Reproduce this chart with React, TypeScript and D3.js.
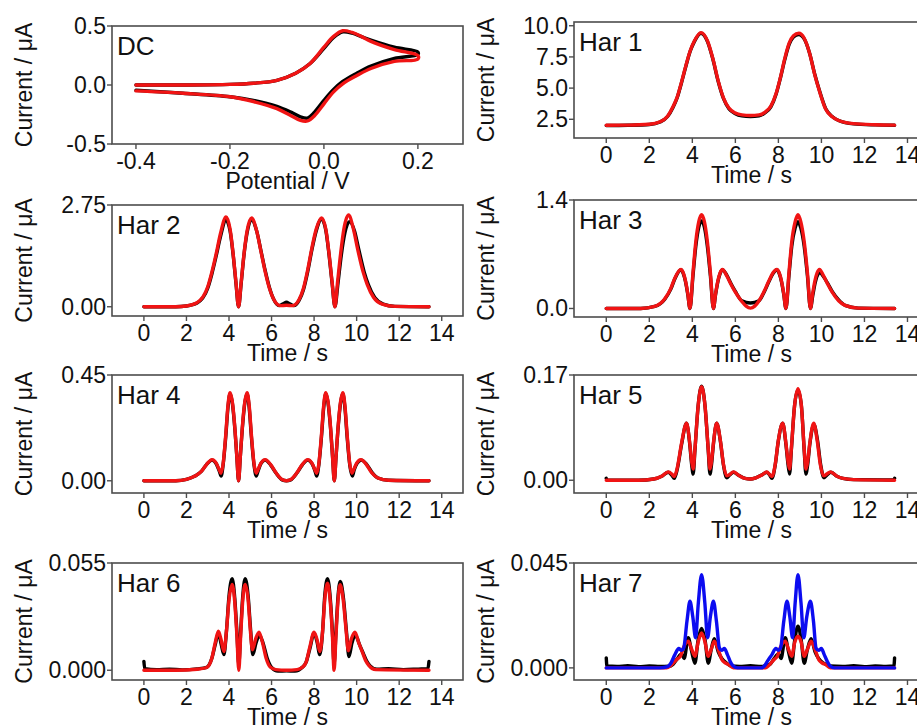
import React from "react";
import * as d3 from "d3";

type Pt = [number, number];

// ---- DC cyclic voltammogram: potential (V), current (uA); forward sweep then reverse ----
const dcExp: Pt[] = [
  [-0.4, 0.0], [-0.3, 0.0], [-0.2, 0.005], [-0.15, 0.015], [-0.1, 0.04], [-0.06, 0.1],
  [-0.03, 0.18], [0.0, 0.31], [0.02, 0.4], [0.04, 0.45], [0.06, 0.44], [0.08, 0.41],
  [0.1, 0.38], [0.15, 0.32], [0.2, 0.28],
  [0.2, 0.26], [0.15, 0.225], [0.1, 0.16], [0.07, 0.1], [0.04, 0.03], [0.02, -0.04],
  [0.0, -0.13], [-0.02, -0.23], [-0.035, -0.28], [-0.05, -0.27], [-0.07, -0.23],
  [-0.1, -0.18], [-0.15, -0.13], [-0.2, -0.1], [-0.3, -0.07], [-0.4, -0.045],
];
const dcSim: Pt[] = [
  [-0.4, 0.0], [-0.3, 0.0], [-0.2, 0.005], [-0.15, 0.015], [-0.1, 0.04], [-0.06, 0.1],
  [-0.03, 0.18], [0.0, 0.32], [0.02, 0.41], [0.04, 0.46], [0.06, 0.445], [0.08, 0.41],
  [0.1, 0.37], [0.15, 0.3], [0.2, 0.25],
  [0.2, 0.22], [0.15, 0.2], [0.1, 0.14], [0.07, 0.08], [0.04, 0.01], [0.02, -0.06],
  [0.0, -0.16], [-0.02, -0.26], [-0.035, -0.305], [-0.05, -0.3], [-0.07, -0.26],
  [-0.1, -0.2], [-0.15, -0.14], [-0.2, -0.1], [-0.3, -0.07], [-0.4, -0.05],
];

// ---- harmonics: time (s), current (uA) ----
const har1Exp: Pt[] = [
  [0, 2.0], [1, 2.02], [2, 2.08], [2.5, 2.28], [2.85, 2.72], [3.1, 3.45], [3.3, 4.25],
  [3.5, 5.45], [3.7, 6.75], [3.9, 7.95], [4.1, 8.75], [4.4, 9.4], [4.7, 8.75], [4.95, 7.35],
  [5.2, 5.55], [5.45, 4.15], [5.7, 3.35], [6.0, 2.95], [6.3, 2.78], [6.7, 2.72], [7.1, 2.78],
  [7.4, 3.05], [7.65, 3.5], [7.9, 4.55], [8.1, 5.85], [8.3, 7.3], [8.5, 8.5], [8.7, 9.1],
  [8.95, 9.3], [9.2, 8.95], [9.45, 7.8], [9.7, 6.05], [9.9, 4.85], [10.2, 3.35], [10.5, 2.72],
  [10.8, 2.4], [11.5, 2.13], [12.5, 2.05], [13.4, 2.02],
];
const har1Sim: Pt[] = [
  [0, 2.02], [1, 2.03], [2, 2.1], [2.5, 2.3], [2.85, 2.75], [3.1, 3.5], [3.3, 4.3],
  [3.5, 5.5], [3.7, 6.8], [3.9, 8.0], [4.1, 8.8], [4.4, 9.45], [4.7, 8.8], [4.95, 7.4],
  [5.2, 5.6], [5.45, 4.2], [5.7, 3.4], [6.0, 3.0], [6.3, 2.85], [6.7, 2.8], [7.1, 2.85],
  [7.4, 3.1], [7.65, 3.55], [7.9, 4.6], [8.1, 5.9], [8.3, 7.4], [8.5, 8.6], [8.7, 9.2],
  [8.95, 9.4], [9.2, 9.0], [9.45, 7.8], [9.7, 6.0], [9.9, 4.8], [10.2, 3.3], [10.5, 2.7],
  [10.8, 2.4], [11.5, 2.15], [12.5, 2.06], [13.4, 2.03],
];

const har2Exp: Pt[] = [
  [0, 0], [1.5, 0], [2.0, 0.02], [2.5, 0.1], [3.0, 0.5], [3.2, 0.9], [3.4, 1.38], [3.6, 1.9],
  [3.86, 2.34], [4.05, 2.05], [4.2, 1.38], [4.33, 0.62], [4.45, 0], [4.57, 0.62], [4.7, 1.38],
  [4.85, 2.0], [5.06, 2.36], [5.3, 2.05], [5.5, 1.52], [5.7, 0.98], [5.9, 0.52], [6.1, 0.2],
  [6.35, 0.03], [6.55, 0.08], [6.7, 0.12], [6.85, 0.08], [7.05, 0.03], [7.3, 0.18], [7.5, 0.46],
  [7.7, 0.95], [7.9, 1.55], [8.1, 2.05], [8.35, 2.37], [8.55, 2.07], [8.7, 1.42], [8.85, 0.62],
  [8.98, 0], [9.12, 0.62], [9.28, 1.4], [9.45, 2.0], [9.66, 2.3], [9.9, 2.05], [10.1, 1.55],
  [10.35, 0.95], [10.55, 0.6], [10.85, 0.25], [11.25, 0.07], [11.8, 0.01], [13.4, 0],
];
const har2Sim: Pt[] = [
  [0, 0], [1.5, 0], [2.0, 0.02], [2.5, 0.11], [3.0, 0.54], [3.2, 0.95], [3.4, 1.44], [3.6, 1.98],
  [3.86, 2.43], [4.05, 2.1], [4.2, 1.4], [4.33, 0.65], [4.45, 0], [4.57, 0.65], [4.7, 1.4],
  [4.85, 2.05], [5.06, 2.4], [5.3, 2.05], [5.5, 1.5], [5.7, 0.95], [5.9, 0.5], [6.1, 0.2],
  [6.4, 0.03], [6.7, 0.04], [7.0, 0.03], [7.3, 0.2], [7.5, 0.5], [7.7, 1.0], [7.9, 1.6],
  [8.1, 2.1], [8.35, 2.4], [8.55, 2.1], [8.7, 1.45], [8.85, 0.65], [8.98, 0], [9.1, 0.65],
  [9.25, 1.45], [9.4, 2.1], [9.62, 2.48], [9.85, 2.1], [10.05, 1.55], [10.3, 0.95], [10.5, 0.6],
  [10.8, 0.25], [11.2, 0.07], [11.8, 0.01], [13.4, 0],
];

const har3Exp: Pt[] = [
  [0, 0], [1.6, 0], [2.25, 0.026], [2.72, 0.12], [3.0, 0.25], [3.2, 0.39], [3.47, 0.5],
  [3.58, 0.45], [3.68, 0.35], [3.79, 0.18], [3.89, 0], [4.03, 0.42], [4.16, 0.8], [4.3, 1.05],
  [4.43, 1.13], [4.56, 1.05], [4.7, 0.8], [4.84, 0.42], [4.98, 0], [5.08, 0.18], [5.19, 0.35],
  [5.29, 0.45], [5.4, 0.5], [5.6, 0.43], [5.8, 0.32], [6.0, 0.22], [6.3, 0.1], [6.7, 0.07],
  [7.1, 0.1], [7.3, 0.19], [7.55, 0.34], [7.75, 0.45], [7.93, 0.5], [8.04, 0.45], [8.14, 0.35],
  [8.25, 0.18], [8.35, 0], [8.49, 0.42], [8.62, 0.8], [8.78, 1.04], [8.91, 1.12], [9.04, 1.04],
  [9.2, 0.8], [9.35, 0.42], [9.49, 0], [9.6, 0.17], [9.7, 0.32], [9.8, 0.42], [9.93, 0.46],
  [10.1, 0.41], [10.3, 0.32], [10.5, 0.22], [10.8, 0.11], [11.1, 0.04], [11.7, 0.005], [13.4, 0],
];
const har3Sim: Pt[] = [
  [0, 0], [1.6, 0], [2.25, 0.026], [2.72, 0.125], [3.0, 0.26], [3.2, 0.4], [3.47, 0.505],
  [3.58, 0.46], [3.68, 0.36], [3.79, 0.19], [3.89, 0], [4.03, 0.46], [4.16, 0.86], [4.3, 1.12],
  [4.43, 1.21], [4.56, 1.12], [4.7, 0.86], [4.84, 0.46], [4.98, 0], [5.08, 0.19], [5.19, 0.36],
  [5.29, 0.46], [5.4, 0.505], [5.6, 0.42], [5.8, 0.31], [6.0, 0.21], [6.3, 0.09], [6.5, 0.03],
  [6.7, 0.005], [6.9, 0.03], [7.1, 0.1], [7.3, 0.2], [7.55, 0.35], [7.75, 0.46], [7.93, 0.505],
  [8.04, 0.46], [8.14, 0.36], [8.25, 0.19], [8.35, 0], [8.49, 0.46], [8.62, 0.86], [8.78, 1.12],
  [8.91, 1.21], [9.04, 1.12], [9.2, 0.86], [9.35, 0.46], [9.49, 0], [9.59, 0.19], [9.7, 0.36],
  [9.8, 0.46], [9.91, 0.505], [10.1, 0.42], [10.3, 0.31], [10.5, 0.21], [10.8, 0.1],
  [11.1, 0.04], [11.7, 0.005], [13.4, 0],
];

const har4Exp: Pt[] = [
  [0, 0], [1.5, 0], [2.0, 0.006], [2.4, 0.02], [2.7, 0.04], [2.95, 0.07], [3.2, 0.088],
  [3.4, 0.072], [3.55, 0.04], [3.63, 0.02], [3.72, 0.065], [3.85, 0.19], [3.95, 0.31],
  [4.05, 0.37], [4.15, 0.335], [4.28, 0.215], [4.37, 0.1], [4.45, 0], [4.53, 0.1], [4.62, 0.215],
  [4.75, 0.335], [4.85, 0.37], [4.95, 0.31], [5.05, 0.19], [5.18, 0.065], [5.28, 0.02],
  [5.36, 0.04], [5.5, 0.073], [5.7, 0.088], [5.95, 0.068], [6.2, 0.034], [6.5, 0.004], [6.7, 0],
  [6.9, 0.004], [7.2, 0.034], [7.45, 0.068], [7.7, 0.088], [7.9, 0.073], [8.05, 0.04],
  [8.12, 0.02], [8.22, 0.065], [8.35, 0.19], [8.45, 0.31], [8.55, 0.37], [8.65, 0.335],
  [8.78, 0.215], [8.87, 0.1], [8.95, 0], [9.03, 0.1], [9.12, 0.215], [9.25, 0.335], [9.35, 0.37],
  [9.45, 0.31], [9.55, 0.19], [9.68, 0.065], [9.8, 0.02], [9.88, 0.045], [10.02, 0.074],
  [10.22, 0.088], [10.47, 0.07], [10.72, 0.036], [11.0, 0.012], [11.5, 0.002], [13.4, 0],
];
const har4Sim: Pt[] = [
  [0, 0], [1.5, 0], [2.0, 0.006], [2.4, 0.02], [2.7, 0.04], [2.95, 0.07], [3.2, 0.09],
  [3.4, 0.075], [3.55, 0.045], [3.62, 0.032], [3.72, 0.07], [3.85, 0.2], [3.95, 0.32],
  [4.05, 0.375], [4.15, 0.34], [4.28, 0.22], [4.37, 0.1], [4.45, 0], [4.53, 0.1], [4.62, 0.22],
  [4.75, 0.34], [4.85, 0.375], [4.95, 0.32], [5.05, 0.2], [5.18, 0.07], [5.28, 0.032],
  [5.35, 0.045], [5.5, 0.075], [5.7, 0.09], [5.95, 0.07], [6.2, 0.035], [6.5, 0.005], [6.7, 0],
  [6.9, 0.005], [7.2, 0.035], [7.45, 0.07], [7.7, 0.09], [7.9, 0.075], [8.05, 0.045],
  [8.12, 0.032], [8.22, 0.07], [8.35, 0.2], [8.45, 0.32], [8.55, 0.375], [8.65, 0.34],
  [8.78, 0.22], [8.87, 0.1], [8.95, 0], [9.03, 0.1], [9.12, 0.22], [9.25, 0.34], [9.35, 0.375],
  [9.45, 0.32], [9.55, 0.2], [9.68, 0.07], [9.78, 0.032], [9.85, 0.045], [10.0, 0.075],
  [10.2, 0.09], [10.45, 0.07], [10.7, 0.035], [11.0, 0.012], [11.5, 0.002], [13.4, 0],
];

const har5Exp: Pt[] = [
  [0, 0.003], [0.05, 0.0005], [1.5, 0], [2.2, 0.002], [2.6, 0.007], [2.88, 0.013], [3.05, 0.008],
  [3.16, 0.003], [3.3, 0.018], [3.5, 0.058], [3.73, 0.092], [3.88, 0.058], [3.97, 0.025],
  [4.04, 0.01], [4.12, 0.048], [4.27, 0.12], [4.43, 0.152], [4.59, 0.12], [4.74, 0.048],
  [4.82, 0.01], [4.89, 0.025], [4.98, 0.058], [5.13, 0.092], [5.3, 0.064], [5.45, 0.024],
  [5.6, 0.004], [5.72, 0.008], [5.91, 0.013], [6.15, 0.008], [6.45, 0.003], [6.7, 0.002],
  [6.95, 0.004], [7.25, 0.009], [7.46, 0.013], [7.6, 0.008], [7.7, 0.003], [7.85, 0.024],
  [8.0, 0.064], [8.2, 0.092], [8.35, 0.058], [8.45, 0.025], [8.52, 0.01], [8.6, 0.048],
  [8.75, 0.12], [8.91, 0.146], [9.07, 0.12], [9.2, 0.048], [9.28, 0.01], [9.36, 0.025],
  [9.46, 0.058], [9.65, 0.09], [9.82, 0.064], [9.97, 0.024], [10.12, 0.004], [10.27, 0.009],
  [10.44, 0.013], [10.7, 0.007], [11.0, 0.003], [11.5, 0.001], [13.35, 0.0005], [13.4, 0.003],
];
const har5Sim: Pt[] = [
  [0, 0], [1.5, 0], [2.2, 0.002], [2.6, 0.007], [2.88, 0.0135], [3.05, 0.01], [3.16, 0.006],
  [3.3, 0.02], [3.5, 0.06], [3.73, 0.092], [3.88, 0.06], [3.97, 0.03], [4.04, 0.018],
  [4.12, 0.05], [4.27, 0.12], [4.43, 0.151], [4.59, 0.12], [4.74, 0.05], [4.82, 0.018],
  [4.89, 0.03], [4.98, 0.06], [5.13, 0.092], [5.3, 0.065], [5.45, 0.025], [5.6, 0.007],
  [5.72, 0.009], [5.91, 0.0135], [6.15, 0.008], [6.45, 0.003], [6.7, 0.002], [6.95, 0.004],
  [7.25, 0.009], [7.46, 0.0135], [7.6, 0.009], [7.7, 0.006], [7.85, 0.025], [8.0, 0.065],
  [8.2, 0.092], [8.35, 0.06], [8.45, 0.03], [8.52, 0.018], [8.6, 0.05], [8.75, 0.12],
  [8.91, 0.148], [9.07, 0.12], [9.2, 0.05], [9.28, 0.018], [9.36, 0.03], [9.46, 0.06],
  [9.64, 0.092], [9.8, 0.065], [9.95, 0.025], [10.1, 0.007], [10.25, 0.01], [10.42, 0.0135],
  [10.7, 0.007], [11.0, 0.003], [11.5, 0.001], [13.4, 0],
];

const har6Exp: Pt[] = [
  [0, 0.0045], [0.04, 0.0008], [0.6, 0.0003], [1.2, 0.0006], [1.8, 0.0002], [2.5, 0.0007],
  [2.95, 0.0015], [3.19, 0.006], [3.35, 0.013], [3.5, 0.019], [3.62, 0.014], [3.76, 0.008],
  [3.88, 0.02], [4.0, 0.038], [4.15, 0.047], [4.27, 0.037], [4.37, 0.02], [4.46, 0.003],
  [4.55, 0.02], [4.64, 0.037], [4.76, 0.047], [4.9, 0.038], [5.02, 0.02], [5.12, 0.008],
  [5.27, 0.014], [5.43, 0.018], [5.6, 0.014], [5.8, 0.006], [6.0, 0.0015], [6.3, -0.0004],
  [6.7, -0.0003], [7.1, -0.0004], [7.45, 0.0015], [7.62, 0.004], [7.8, 0.011], [8.0, 0.019],
  [8.13, 0.015], [8.27, 0.008], [8.4, 0.02], [8.5, 0.038], [8.63, 0.047], [8.76, 0.037],
  [8.86, 0.02], [8.94, 0.003], [9.03, 0.02], [9.12, 0.037], [9.23, 0.0455], [9.38, 0.037],
  [9.52, 0.02], [9.64, 0.007], [9.78, 0.014], [9.95, 0.0178], [10.14, 0.013], [10.3, 0.009],
  [10.46, 0.005], [10.62, 0.0024], [10.95, 0.0005], [11.5, 0.0008], [12.2, 0.0003],
  [12.9, 0.0006], [13.35, 0.0008], [13.4, 0.0045],
];
const har6Sim: Pt[] = [
  [0, 0], [1.5, 0], [2.5, 0.0005], [2.95, 0.0014], [3.19, 0.006], [3.35, 0.014], [3.5, 0.02],
  [3.62, 0.016], [3.76, 0.0096], [3.88, 0.02], [4.0, 0.036], [4.15, 0.044], [4.27, 0.035],
  [4.37, 0.018], [4.46, 0], [4.55, 0.018], [4.64, 0.035], [4.76, 0.044], [4.9, 0.036],
  [5.0, 0.021], [5.1, 0.0105], [5.25, 0.016], [5.41, 0.0195], [5.58, 0.014], [5.75, 0.006],
  [5.95, 0.0015], [6.2, 0.0003], [6.7, 0], [7.2, 0.0003], [7.45, 0.0015], [7.62, 0.004],
  [7.8, 0.012], [8.0, 0.0195], [8.13, 0.016], [8.27, 0.0096], [8.4, 0.02], [8.5, 0.036],
  [8.63, 0.0447], [8.76, 0.035], [8.86, 0.018], [8.94, 0], [9.03, 0.018], [9.12, 0.035],
  [9.22, 0.0439], [9.37, 0.036], [9.5, 0.021], [9.61, 0.01], [9.75, 0.016], [9.92, 0.0195],
  [10.1, 0.014], [10.26, 0.0096], [10.42, 0.005], [10.58, 0.0024], [10.9, 0.0003], [13.4, 0],
];

const har7Exp: Pt[] = [
  [0, 0.0043], [0.03, 0.0008], [0.5, 0.0006], [1, 0.0009], [1.5, 0.0005], [2, 0.0008],
  [2.5, 0.0006], [2.9, 0.0007], [3.1, 0.0015], [3.3, 0.004], [3.5, 0.006], [3.62, 0.004],
  [3.81, 0.0129], [3.97, 0.007], [4.12, 0.002], [4.27, 0.012], [4.43, 0.0169], [4.59, 0.012],
  [4.74, 0.002], [4.88, 0.008], [5.02, 0.0125], [5.2, 0.007], [5.37, 0.004], [5.6, 0.002],
  [5.8, 0.0008], [6.2, 0.0006], [6.7, 0.0009], [7.2, 0.0006], [7.6, 0.0015], [7.8, 0.004],
  [8.0, 0.006], [8.12, 0.004], [8.32, 0.0129], [8.47, 0.007], [8.62, 0.002], [8.76, 0.012],
  [8.91, 0.0179], [9.06, 0.012], [9.2, 0.002], [9.35, 0.008], [9.52, 0.0125], [9.7, 0.007],
  [9.87, 0.004], [10.1, 0.002], [10.4, 0.0008], [11, 0.0006], [11.5, 0.0009], [12, 0.0005],
  [12.5, 0.0008], [13, 0.0006], [13.37, 0.0008], [13.4, 0.0043],
];
const har7Sim: Pt[] = [
  [0, 0], [2.8, 0], [3.0, 0.001], [3.27, 0.0036], [3.45, 0.005], [3.6, 0.009], [3.81, 0.0114],
  [3.97, 0.008], [4.12, 0.005], [4.27, 0.011], [4.43, 0.015], [4.59, 0.011], [4.74, 0.005],
  [4.88, 0.008], [5.02, 0.0114], [5.2, 0.008], [5.37, 0.0036], [5.55, 0.002], [5.68, 0.0014],
  [5.85, 0.0003], [6.0, 0], [7.4, 0], [7.55, 0.001], [7.8, 0.0036], [7.95, 0.005], [8.1, 0.009],
  [8.32, 0.0114], [8.47, 0.008], [8.62, 0.005], [8.76, 0.011], [8.91, 0.0136], [9.06, 0.011],
  [9.2, 0.005], [9.35, 0.008], [9.52, 0.0114], [9.7, 0.008], [9.87, 0.0036], [10.05, 0.002],
  [10.2, 0.0014], [10.35, 0.0003], [10.5, 0], [13.4, 0],
];
const har7Alt: Pt[] = [
  [0, 0], [2.5, 0], [2.85, 0.0005], [3.0, 0.002], [3.19, 0.0057], [3.37, 0.0083], [3.5, 0.0075],
  [3.6, 0.0085], [3.75, 0.02], [3.89, 0.0286], [4.02, 0.022], [4.15, 0.0129], [4.28, 0.028],
  [4.43, 0.04], [4.58, 0.028], [4.71, 0.0129], [4.84, 0.022], [4.98, 0.0286], [5.12, 0.02],
  [5.26, 0.0085], [5.36, 0.0075], [5.49, 0.0083], [5.63, 0.0057], [5.75, 0.003], [5.9, 0.0008],
  [6.1, 0], [7.2, 0], [7.35, 0.0008], [7.5, 0.003], [7.7, 0.0057], [7.88, 0.0083], [8.0, 0.0075],
  [8.1, 0.0085], [8.25, 0.02], [8.4, 0.0286], [8.53, 0.022], [8.66, 0.0129], [8.78, 0.028],
  [8.91, 0.04], [9.05, 0.028], [9.18, 0.0129], [9.32, 0.022], [9.49, 0.0286], [9.63, 0.02],
  [9.75, 0.0085], [9.87, 0.0075], [10.0, 0.0083], [10.13, 0.0057], [10.26, 0.003],
  [10.4, 0.0008], [10.6, 0], [13.4, 0],
];

const timeTicks = [0, 2, 4, 6, 8, 10, 12, 14];
const potentialTicks = [-0.4, -0.2, 0.0, 0.2];

const BLACK = "#000000";
const RED = "#f01414";
const BLUE = "#0c0cf0";
const FRAME = "#4d4d4d";
const FONT = "'Liberation Sans', Arial, Helvetica, sans-serif";

const W = 917;
const H = 727;

// column boxes (pixels); the right column runs past the picture's edge
const LEFT = { x0: 112, x1: 463 };
const RIGHT = { x0: 574, x1: 929 };

// plain hyphen minus, as in the original figure
const fmt = (spec: string) => {
  const f = d3.format(spec);
  return (v: number) => f(v).replace("\u2212", "-");
};

const panels = [
  { label: "DC", col: LEFT, y0: 26, y1: 144, xDomain: [-0.451, 0.296], yDomain: [-0.5, 0.5],
    xTicks: potentialTicks, xFmt: fmt(".1f"), xTitle: "Potential / V",
    yTicks: [-0.5, 0.0, 0.5], yFmt: fmt(".1f"), loop: true,
    series: [{ data: dcExp, color: BLACK }, { data: dcSim, color: RED }] },
  { label: "Har 1", col: RIGHT, y0: 22, y1: 138, xDomain: [-1.5, 15], yDomain: [1.0, 10.3],
    xTicks: timeTicks, xFmt: fmt("d"), xTitle: "Time / s",
    yTicks: [2.5, 5.0, 7.5, 10.0], yFmt: fmt(".1f"),
    series: [{ data: har1Exp, color: BLACK }, { data: har1Sim, color: RED }] },
  { label: "Har 2", col: LEFT, y0: 205, y1: 316, xDomain: [-1.5, 15], yDomain: [-0.25, 2.75],
    xTicks: timeTicks, xFmt: fmt("d"), xTitle: "Time / s",
    yTicks: [0, 2.75], yFmt: fmt(".2f"),
    series: [{ data: har2Exp, color: BLACK }, { data: har2Sim, color: RED }] },
  { label: "Har 3", col: RIGHT, y0: 200, y1: 317, xDomain: [-1.5, 15], yDomain: [-0.11, 1.4],
    xTicks: timeTicks, xFmt: fmt("d"), xTitle: "Time / s",
    yTicks: [0, 1.4], yFmt: fmt(".1f"),
    series: [{ data: har3Exp, color: BLACK }, { data: har3Sim, color: RED }] },
  { label: "Har 4", col: LEFT, y0: 375, y1: 493, xDomain: [-1.5, 15], yDomain: [-0.052, 0.45],
    xTicks: timeTicks, xFmt: fmt("d"), xTitle: "Time / s",
    yTicks: [0, 0.45], yFmt: fmt(".2f"),
    series: [{ data: har4Exp, color: BLACK }, { data: har4Sim, color: RED }] },
  { label: "Har 5", col: RIGHT, y0: 375, y1: 493, xDomain: [-1.5, 15], yDomain: [-0.0206, 0.17],
    xTicks: timeTicks, xFmt: fmt("d"), xTitle: "Time / s",
    yTicks: [0, 0.17], yFmt: fmt(".2f"),
    series: [{ data: har5Exp, color: BLACK }, { data: har5Sim, color: RED }] },
  { label: "Har 6", col: LEFT, y0: 563, y1: 680, xDomain: [-1.5, 15], yDomain: [-0.005, 0.055],
    xTicks: timeTicks, xFmt: fmt("d"), xTitle: "Time / s",
    yTicks: [0, 0.055], yFmt: fmt(".3f"),
    series: [{ data: har6Exp, color: BLACK }, { data: har6Sim, color: RED }] },
  { label: "Har 7", col: RIGHT, y0: 563, y1: 680, xDomain: [-1.5, 15], yDomain: [-0.0052, 0.045],
    xTicks: timeTicks, xFmt: fmt("d"), xTitle: "Time / s",
    yTicks: [0, 0.045], yFmt: fmt(".3f"),
    series: [{ data: har7Exp, color: BLACK }, { data: har7Sim, color: RED }, { data: har7Alt, color: BLUE }] },
];

function Panel({ p, idx }: { p: any; idx: number }) {
  const x = d3.scaleLinear().domain(p.xDomain).range([p.col.x0, p.col.x1]);
  const y = d3.scaleLinear().domain(p.yDomain).range([p.y1, p.y0]);
  const line = d3
    .line<Pt>()
    .x(d => x(d[0]))
    .y(d => y(d[1]))
    .curve(p.loop ? d3.curveCatmullRom.alpha(0.5) : d3.curveMonotoneX);

  const clipId = `clip-${idx}`;
  const cx = (p.col.x0 + p.col.x1) / 2;
  const cy = (p.y0 + p.y1) / 2;

  return (
    <g>
      <defs>
        <clipPath id={clipId}>
          <rect x={p.col.x0} y={p.y0} width={p.col.x1 - p.col.x0} height={p.y1 - p.y0} />
        </clipPath>
      </defs>
      <g clipPath={`url(#${clipId})`}>
        {p.series.map((s: any, i: number) => (
          <path key={i} d={line(s.data) || ""} fill="none" stroke={s.color}
            strokeWidth={3.4} strokeLinejoin="round" strokeLinecap="round" />
        ))}
      </g>
      <rect x={p.col.x0} y={p.y0} width={p.col.x1 - p.col.x0} height={p.y1 - p.y0}
        fill="none" stroke={FRAME} strokeWidth={1.6} />

      {/* x axis */}
      {p.xTicks.map((t: number) => (
        <g key={t}>
          <line x1={x(t)} x2={x(t)} y1={p.y1} y2={p.y1 + 5} stroke={FRAME} strokeWidth={1.4} />
          <text x={x(t)} y={p.y1 + 25} textAnchor="middle" fontSize={23} fontFamily={FONT} fill="#111">
            {p.xFmt(t)}
          </text>
        </g>
      ))}
      <text x={cx} y={p.y1 + 45} textAnchor="middle" fontSize={23} fontFamily={FONT} fill="#111">
        {p.xTitle}
      </text>

      {/* y axis */}
      {p.yTicks.map((t: number) => (
        <g key={t}>
          <line x1={p.col.x0 - 5} x2={p.col.x0} y1={y(t)} y2={y(t)} stroke={FRAME} strokeWidth={1.4} />
          <text x={p.col.x0 - 6} y={y(t) + 8} textAnchor="end" fontSize={23} fontFamily={FONT} fill="#111">
            {p.yFmt(t)}
          </text>
        </g>
      ))}
      <text transform={`translate(${p.col.x0 - 80},${cy}) rotate(-90)`} textAnchor="middle"
        fontSize={23} fontFamily={FONT} fill="#111">
        Current / μA
      </text>

      <text x={p.col.x0 + 5} y={p.y0 + 29} fontSize={26} fontFamily={FONT} fill="#111">
        {p.label}
      </text>
    </g>
  );
}

export default function App() {
  return (
    <svg width={W} height={H} viewBox={`0 0 ${W} ${H}`}
      style={{ position: "absolute", left: 0, top: 0, display: "block", background: "#fff" }}>
      <rect x={0} y={0} width={W} height={H} fill="#fff" />
      {panels.map((p, i) => (
        <Panel key={i} p={p} idx={i} />
      ))}
    </svg>
  );
}
